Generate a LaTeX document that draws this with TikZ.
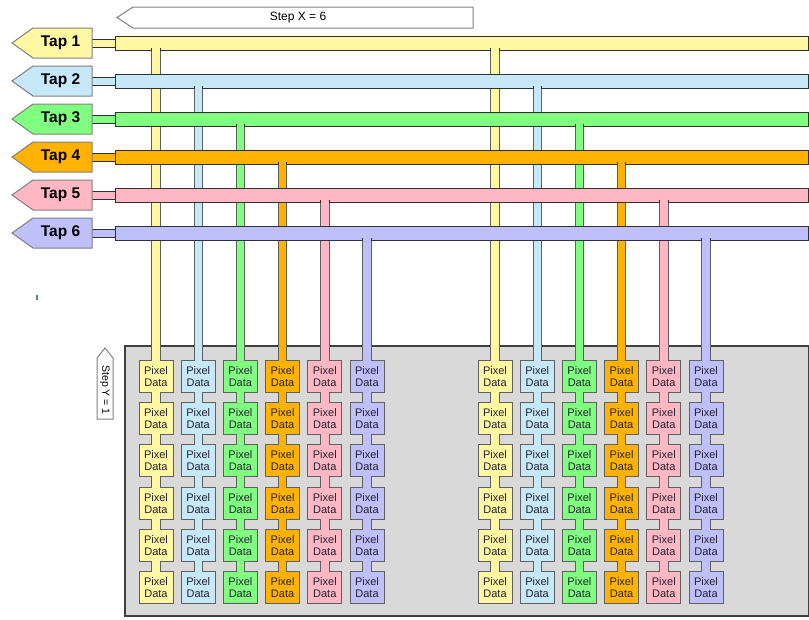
\documentclass[tikz,border=0pt]{standalone}
\usepackage{fontspec}
\setmainfont{Liberation Sans}
\definecolor{tapA}{HTML}{FFF7A1}
\definecolor{tapB}{HTML}{C6E8F8}
\definecolor{tapC}{HTML}{80FF80}
\definecolor{tapD}{HTML}{FFB300}
\definecolor{tapE}{HTML}{FFB7C3}
\definecolor{tapF}{HTML}{BFBFFA}
\definecolor{panelgray}{HTML}{D9D9D9}
\definecolor{panelline}{HTML}{404040}
\definecolor{busline}{HTML}{303030}
\definecolor{boxline}{HTML}{606060}
\definecolor{labelline}{HTML}{808080}
\definecolor{pixtext}{HTML}{222233}
\definecolor{straymark}{HTML}{4E8E6E}
\tikzset{
  taplabel/.style={draw=labelline, line width=1pt},
  taptxt/.style={font=\fontsize{15.5}{18}\selectfont\bfseries, inner sep=0pt},
  pixtxt/.style={font=\fontsize{11}{12}\selectfont, align=center, inner sep=0pt, text=pixtext},
  arrowbox/.style={draw=labelline, fill=white, line width=1pt},
  steptxt/.style={font=\fontsize{12}{14}\selectfont, inner sep=0pt},
  busbox/.style={draw=busline, line width=1pt},
}
\begin{document}
\begin{tikzpicture}[x=1pt,y=-1pt]
\useasboundingbox (0,0) rectangle (809,619);
% panel
\draw[fill=panelgray, draw=panelline, line width=1.2pt] (125,346) rectangle (808.4,616);
% stray mark
\fill[straymark] (36.2,294.5) rectangle (38.2,299.5);
% vertical strips and pixel boxes
\foreach \i/\c in {1/tapA,2/tapB,3/tapC,4/tapD,5/tapE,6/tapF} {
  \pgfmathsetmacro\yb{43+38*(\i-1)+7}
  \foreach \g in {156,495} {
    \pgfmathsetmacro\cx{\g+42.2*(\i-1)}
    \draw[line width=2pt, draw=boxline] (\cx-3.7,\yb-4) rectangle (\cx+3.7,600);
    \foreach \r in {0,...,5} {
      \draw[line width=2pt, draw=boxline] (\cx-16.5,361+42.2*\r) rectangle (\cx+16.5,392+42.2*\r);
    }
    \fill[\c] (\cx-3.7,\yb-4) rectangle (\cx+3.7,600);
    \foreach \r in {0,...,5} {
      \fill[\c] (\cx-16.5,361+42.2*\r) rectangle (\cx+16.5,392+42.2*\r);
      \node[pixtxt] (p-\i-\g-\r) at (\cx,376.5+42.2*\r) {Pixel\\Data};
    }
  }
}
% buses and labels
\foreach \i/\c in {1/tapA,2/tapB,3/tapC,4/tapD,5/tapE,6/tapF} {
  \pgfmathsetmacro\yi{43+38*(\i-1)}
  \draw[busbox, fill=\c] (88,\yi-4) rectangle (117,\yi+4);
  \draw[busbox, fill=\c] (115,\yi-7) rectangle (808,\yi+7);
  \draw[taplabel, fill=\c] (12,\yi) -- (33,\yi-15) -- (92,\yi-15) -- (92,\yi+15) -- (33,\yi+15) -- cycle;
  \node[taptxt] (tap\i) at (60.5,\yi) {Tap \i};
  \foreach \g in {156,495} {
    \pgfmathsetmacro\cx{\g+42.2*(\i-1)}
    \fill[\c] (\cx-3.7,\yi+5) rectangle (\cx+3.7,\yi+8.5);
    \draw[line width=1pt, draw=busline] (\cx-4.2,\yi+5) -- (\cx-4.2,\yi+8);
    \draw[line width=1pt, draw=busline] (\cx+4.2,\yi+5) -- (\cx+4.2,\yi+8);
  }
}
% step arrows
\draw[arrowbox] (117,17.5) -- (133,7) -- (473,7) -- (473,28) -- (133,28) -- cycle;
\node[steptxt] (stepx) at (298,17.5) {Step X = 6};
\draw[arrowbox] (105,348) -- (113,358) -- (113,419) -- (97,419) -- (97,358) -- cycle;
\node[steptxt, rotate=-90, font=\fontsize{10.5}{12}\selectfont] (stepy) at (105,390) {Step Y = 1};
\end{tikzpicture}
\end{document}
